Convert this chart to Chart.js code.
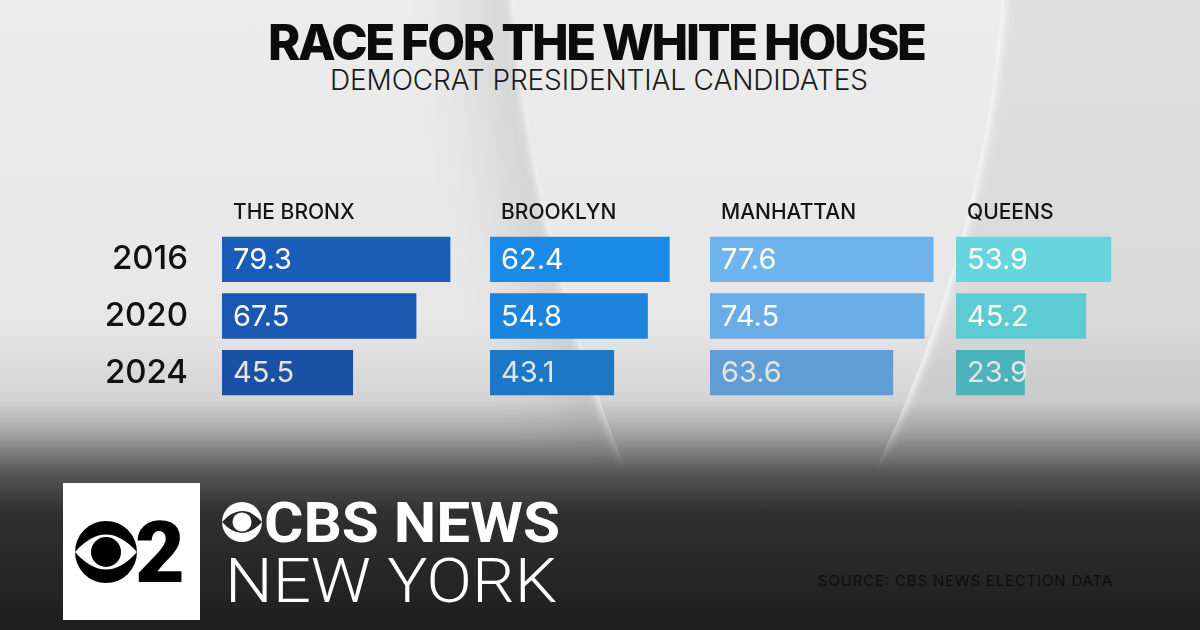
<!DOCTYPE html>
<html>
<head>
<meta charset="utf-8">
<script src="https://cdn.jsdelivr.net/npm/chart.js@4.4.1/dist/chart.umd.min.js"></script>
<style>
  html, body { margin: 0; padding: 0; }
  body {
    width: 1200px; height: 630px; overflow: hidden; position: relative;
    font-family: Inter, sans-serif;
    background: linear-gradient(180deg, #ececec 0px, #e7e7e7 320px, #d4d4d4 400px, #a6a6a6 432px, #575757 472px, #303030 512px, #1e1e1e 630px);
  }
  #swooshes {
    position: absolute; left: 0; top: 0; width: 1200px; height: 480px; overflow: hidden;
    -webkit-mask-image: linear-gradient(180deg, #000 0, #000 380px, transparent 470px);
    mask-image: linear-gradient(180deg, #000 0, #000 380px, transparent 470px);
  }
  .ring { position: absolute; border-radius: 50%; }
  .chart { position: absolute; }
  #art { position: absolute; left: 0; top: 0; }
</style>
</head>
<body>
<div id="swooshes">
  <!-- left crescent -->
  <div class="ring" style="left:508px;top:-1759px;width:3243px;height:3243px;box-shadow:0 0 8px 3px rgba(255,255,255,.85), -55px 0 70px -15px rgba(0,0,0,.11);"></div>
  <!-- right crescent -->
  <div class="ring" style="left:-1606px;top:-1406px;width:2612px;height:2612px;box-shadow:0 0 8px 3px rgba(255,255,255,.9), 0 0 0 500px rgba(0,0,0,.055);"></div>
</div>

<svg id="art" width="1200" height="630">
  <text x="268" y="60" font-family="Inter" font-weight="800" font-size="49" fill="#0c0c0c" textLength="659" lengthAdjust="spacing">RACE FOR THE WHITE HOUSE</text>
  <text x="330" y="90" font-family="Inter" font-weight="300" font-size="28" fill="#1a1a1a" textLength="538" lengthAdjust="spacing">DEMOCRAT PRESIDENTIAL CANDIDATES</text>

  <!-- station logo -->
  <rect x="63" y="483" width="137" height="137" fill="#ffffff"/>
  <circle cx="106" cy="552" r="31" fill="#000"/>
  <path d="M75 552 Q106 517 137 552 Q106 587 75 552Z" fill="#fff"/>
  <circle cx="106" cy="552" r="15" fill="#000"/>
  <text x="135" y="582" font-family="Roboto" font-weight="900" font-size="86" fill="#000">2</text>

  <circle cx="242" cy="522" r="20" fill="#fff"/>
  <path d="M222 522 Q242 500 262 522 Q242 544 222 522Z" fill="#262626"/>
  <circle cx="242" cy="522" r="9.5" fill="#fff"/>
  <text x="264" y="542" font-family="Roboto" font-weight="700" font-size="56" fill="#fff" textLength="296" lengthAdjust="spacingAndGlyphs">CBS NEWS</text>
  <text x="225" y="602" font-family="Roboto" font-weight="300" font-size="62" fill="#fff" textLength="332" lengthAdjust="spacingAndGlyphs">NEW YORK</text>

  <text x="818" y="586" font-family="Inter" font-weight="400" font-size="15" fill="#0e0e0e" textLength="294" lengthAdjust="spacing">SOURCE: CBS NEWS ELECTION DATA</text>
</svg>

<div class="chart" style="left:100px;top:181px;"><canvas id="bronx" width="410" height="225"></canvas></div>
<div class="chart" style="left:480px;top:181px;"><canvas id="brooklyn" width="298" height="225"></canvas></div>
<div class="chart" style="left:700px;top:181px;"><canvas id="manhattan" width="298" height="225"></canvas></div>
<div class="chart" style="left:946px;top:181px;"><canvas id="queens" width="298" height="225"></canvas></div>

<script>
// ----------------- Data -----------------
const years = ["2016", "2020", "2024"];
const boroughs = ["THE BRONX", "BROOKLYN", "MANHATTAN", "QUEENS"];
const bronx = [79.3, 67.5, 45.5];
const brooklyn = [62.4, 54.8, 43.1];
const manhattan = [77.6, 74.5, 63.6];
const queens = [53.9, 45.2, 23.9];

// ----------------- Styles -----------------
const bronxColors = ["#1a5cb8", "#1a58b1", "#1a51a4"];
const brooklynColors = ["#1b8ae7", "#1c84dc", "#1d77c7"];
const manhattanColors = ["#70b4ee", "#6aade6", "#5f9dd4"];
const queensColors = ["#66d5de", "#5dcbd3", "#4db3ba"];
const valueColors = ["#ffffff", "#fbfbfb", "#e4e4e4"];

Chart.defaults.font.family = "Inter";

// value inside each bar + borough name above
const barText = {
  id: "barText",
  afterDatasetsDraw(chart, args, opts) {
    const { ctx, chartArea } = chart;
    const values = chart.data.datasets[0].data;
    ctx.save();
    ctx.font = "400 29px Inter";
    ctx.textBaseline = "middle";
    chart.getDatasetMeta(0).data.forEach((bar, i) => {
      ctx.fillStyle = valueColors[i];
      ctx.fillText(values[i].toFixed(1), bar.base + 11, bar.y + 1);
    });
    ctx.fillStyle = "#141414";
    ctx.font = "500 21px Inter";
    ctx.textBaseline = "alphabetic";
    ctx.fillText(opts.header, chartArea.left + 11, chartArea.top - 12);
    ctx.restore();
  }
};

function makeChart(id, values, header, colors, showYears) {
  return new Chart(document.getElementById(id), {
    type: "bar",
    data: {
      labels: years,
      datasets: [{
        data: values,
        backgroundColor: colors,
        barPercentage: 0.8,
        categoryPercentage: 1
      }]
    },
    options: {
      indexAxis: "y",
      responsive: false,
      animation: false,
      layout: { padding: { top: 50, bottom: 5, left: showYears ? 0 : 10, right: 0 } },
      plugins: {
        legend: { display: false },
        tooltip: { enabled: false },
        barText: { header }
      },
      scales: {
        x: { display: false, min: 0, max: 100 },
        y: {
          display: showYears,
          grid: { display: false },
          border: { display: false },
          ticks: { color: "#111", font: { size: 33, weight: 500 }, padding: 26 },
          afterFit: scale => {
            if (!showYears) return;
            scale.width = 122;
            scale.paddingTop = 0;
            scale.paddingBottom = 0;
          }
        }
      }
    },
    plugins: [barText]
  });
}

// ----------------- Init -----------------
makeChart("bronx", bronx, boroughs[0], bronxColors, true);
makeChart("brooklyn", brooklyn, boroughs[1], brooklynColors, false);
makeChart("manhattan", manhattan, boroughs[2], manhattanColors, false);
makeChart("queens", queens, boroughs[3], queensColors, false);
</script>
</body>
</html>
